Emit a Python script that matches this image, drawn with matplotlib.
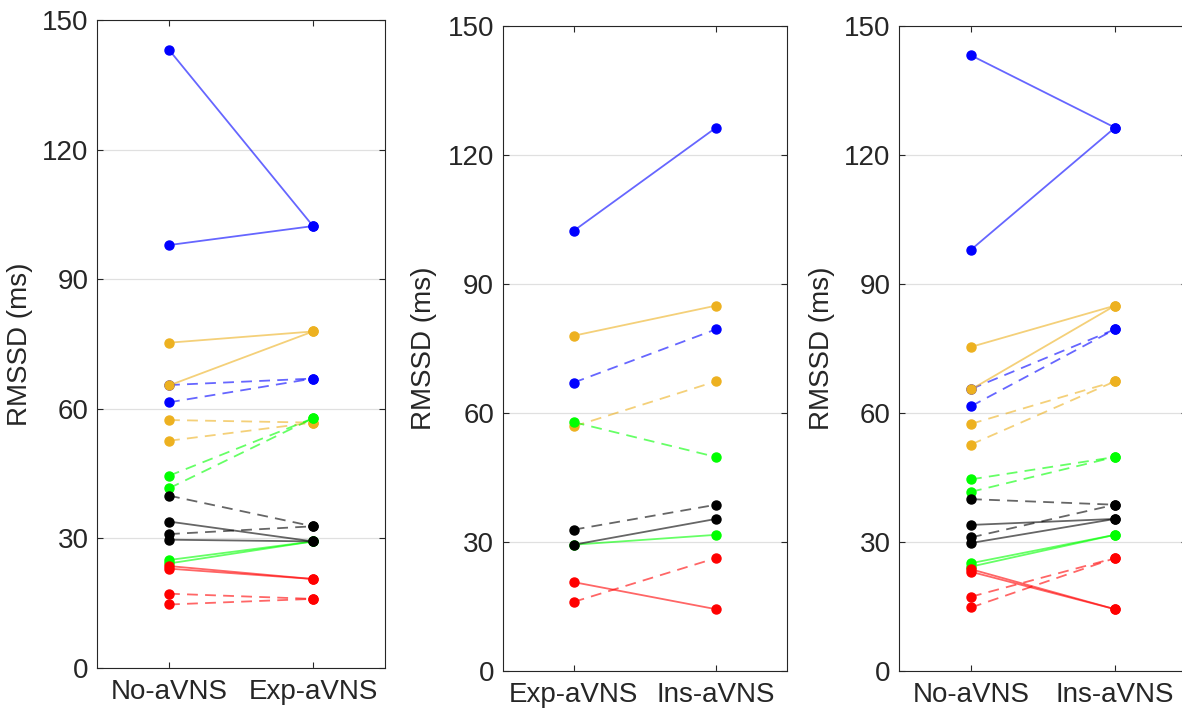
import matplotlib
matplotlib.use("Agg")
import matplotlib.pyplot as plt

plt.rcParams['font.family'] = ['Liberation Sans', 'DejaVu Sans']

# Subjects: colour / line style pairs
colors = ['#0000FF', '#0000FF', '#EDB120', '#EDB120', '#00FF00', '#00FF00',
          '#000000', '#000000', '#FF0000', '#FF0000']
styles = ['-', '--', '-', '--', '-', '--', '-', '--', '-', '--']

# RMSSD (ms) values
no_avns_1 = [143.1, 65.5, 75.3, 57.4, 25.0, 44.5, 33.9, 39.9, 23.6, 17.2]
no_avns_2 = [97.9, 61.5, 65.4, 52.6, 24.2, 41.6, 29.7, 31.0, 23.0, 14.7]
exp_avns = [102.3, 67.0, 77.9, 56.8, 29.3, 57.8, 29.3, 32.8, 20.6, 16.0]
ins_avns = [126.3, 79.4, 84.9, 67.3, 31.6, 49.7, 35.3, 38.6, 14.3, 26.2]

panel_labels = [['No-aVNS', 'Exp-aVNS'], ['Exp-aVNS', 'Ins-aVNS'], ['No-aVNS', 'Ins-aVNS']]
yticks = [0, 30, 60, 90, 120, 150]

fig = plt.figure(figsize=(11.82, 7.11), dpi=100)
W, H = 1182, 711
rects = [
    (97 / W, (711 - 668) / H, 288 / W, 648 / H),
    (502.5 / W, (711 - 670.7) / H, 284.8 / W, 645 / H),
    (899 / W, (711 - 670.7) / H, 288 / W, 645 / H),
]
ylab_x = [-0.221, -0.230, -0.222]

def draw_pair(ax, a, b, i):
    ax.plot([1, 2], [a, b], color=colors[i], linestyle=styles[i], lw=1.3, alpha=0.6,
            dashes=(6, 4) if styles[i] == '--' else (None, None), zorder=2)
    ax.plot([1, 2], [a, b], linestyle='none', marker='o', ms=6.5, color=colors[i],
            mec=colors[i], zorder=3)

axes = []
for k, r in enumerate(rects):
    ax = fig.add_axes(r)
    axes.append(ax)
    for i in range(len(colors)):
        if k == 0:
            draw_pair(ax, no_avns_1[i], exp_avns[i], i)
            draw_pair(ax, no_avns_2[i], exp_avns[i], i)
        elif k == 1:
            draw_pair(ax, exp_avns[i], ins_avns[i], i)
        else:
            draw_pair(ax, no_avns_1[i], ins_avns[i], i)
            draw_pair(ax, no_avns_2[i], ins_avns[i], i)
    ax.set_xlim(0.5, 2.5)
    ax.set_ylim(0, 150)
    ax.set_xticks([1, 2])
    ax.set_xticklabels(panel_labels[k])
    ax.set_yticks(yticks)
    ax.yaxis.grid(True, color='#E0E0E0', lw=0.9, zorder=0)
    ax.set_axisbelow(True)
    ax.tick_params(direction='in', length=4.5, width=0.8, colors='#262626',
                   labelsize=20, top=True, right=True)
    ax.tick_params(axis='y', pad=6)
    ax.tick_params(axis='x', pad=8)
    for s in ax.spines.values():
        s.set_color('#262626')
        s.set_linewidth(0.8)
    ax.set_ylabel('RMSSD (ms)', fontsize=20, color='#262626')
    ax.yaxis.set_label_coords(ylab_x[k], 0.5)

fig.savefig('out.png', dpi=100)
